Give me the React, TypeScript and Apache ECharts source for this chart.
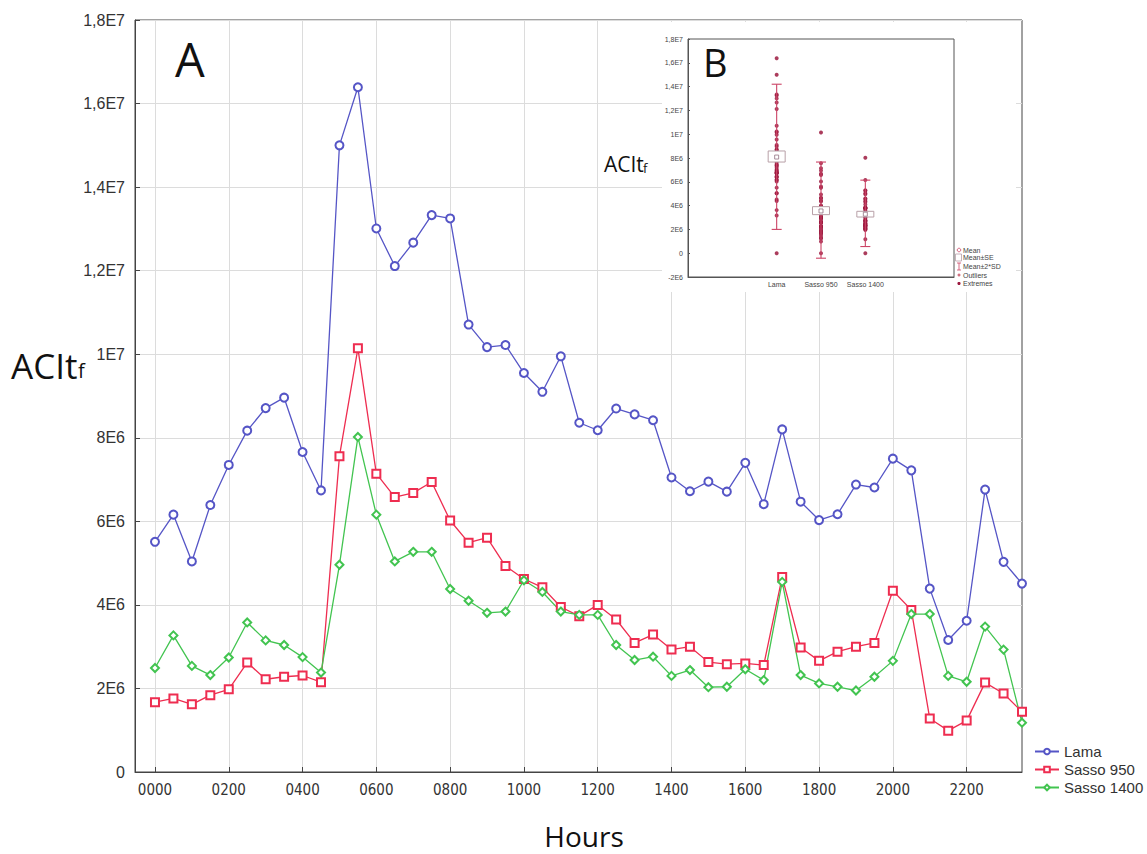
import React, { useEffect, useRef } from "react";
import * as echarts from "echarts";

// ---- main chart data (values in millions, E6) ----
const hourTickLabels = ["0000", "0200", "0400", "0600", "0800", "1000", "1200", "1400", "1600", "1800", "2000", "2200"];
const hourTickIndex = [0, 4, 8, 12, 16, 20, 24, 28, 32, 36, 40, 44];
const yTickLabels = ["0", "2E6", "4E6", "6E6", "8E6", "1E7", "1,2E7", "1,4E7", "1,6E7", "1,8E7"];
const seriesNames = ["Lama", "Sasso 950", "Sasso 1400"];

const lama = [
  5.51, 6.16, 5.04, 6.39, 7.35, 8.17, 8.71, 8.96, 7.66, 6.74,
  15.0, 16.39, 13.01, 12.11, 12.67, 13.33, 13.25, 10.71, 10.17, 10.22,
  9.55, 9.1, 9.95, 8.36, 8.18, 8.7, 8.56, 8.42, 7.05, 6.72,
  6.95, 6.71, 7.4, 6.41, 8.2, 6.47, 6.03, 6.17, 6.88, 6.81,
  7.5, 7.22, 4.39, 3.16, 3.62, 6.76, 5.03, 4.51,
];
const sasso950 = [
  1.67, 1.76, 1.62, 1.84, 1.98, 2.62, 2.22, 2.28, 2.31, 2.15,
  7.56, 10.14, 7.14, 6.58, 6.68, 6.94, 6.02, 5.49, 5.61, 4.93,
  4.62, 4.42, 3.95, 3.73, 4.0, 3.65, 3.09, 3.29, 2.93, 3.0,
  2.63, 2.58, 2.6, 2.56, 4.67, 2.98, 2.66, 2.88, 3.0, 3.09,
  4.34, 3.88, 1.28, 0.99, 1.23, 2.14, 1.88, 1.44,
];
const sasso1400 = [
  2.49, 3.27, 2.54, 2.32, 2.74, 3.58, 3.15, 3.04, 2.75, 2.38,
  4.96, 8.02, 6.16, 5.04, 5.27, 5.27, 4.38, 4.1, 3.81, 3.84,
  4.59, 4.31, 3.84, 3.76, 3.76, 3.04, 2.68, 2.76, 2.3, 2.44,
  2.03, 2.04, 2.46, 2.2, 4.55, 2.32, 2.12, 2.04, 1.95, 2.28,
  2.66, 3.78, 3.78, 2.3, 2.16, 3.48, 2.93, 1.18,
];

// ---- inset (B) data, values in millions ----
const insetYTickLabels = ["-2E6", "0", "2E6", "4E6", "6E6", "8E6", "1E7", "1,2E7", "1,4E7", "1,6E7", "1,8E7"];
const insetCategories = ["Lama", "Sasso 950", "Sasso 1400"];
const insetPositions = [2, 3, 4];
const insetMean = [8.08, 3.55, 3.28];
const insetSeLow = [7.66, 3.24, 3.04];
const insetSeHigh = [8.59, 3.91, 3.52];
const insetSdLow = [2.0, -0.42, 0.56];
const insetSdHigh = [14.2, 7.66, 6.14];
const insetZeroExtremes = [0, 0, 0];
const insetLegend = ["Mean", "Mean±SE", "Mean±2*SD", "Outliers", "Extremes"];

const BLUE = "#5555c6";
const RED = "#ee2d50";
const GREEN = "#42c450";
const IN_RED = "#cc4466";
const IN_DOT = "#9c1a40";
const IN_BOX = "#b8a0a8";
const SANS = "'Liberation Sans', Arial, sans-serif";
const NARROW = "'Liberation Sans Narrow', 'DejaVu Sans Condensed', 'Liberation Sans', sans-serif";
const MYRIAD = "'Open Sans', 'Noto Sans', sans-serif";

export default function App() {
  const ref = useRef<HTMLDivElement>(null);

  useEffect(() => {
    if (!ref.current) return;
    const chart = echarts.init(ref.current, undefined, { renderer: "svg" });

    const idx = (arr: number[]) => arr.map((v, i) => [i, v]);
    const scatterData: number[][] = [];
    [lama, sasso950, sasso1400].forEach((arr, k) => {
      arr.forEach((v) => scatterData.push([insetPositions[k], v]));
      scatterData.push([insetPositions[k], insetZeroExtremes[k]]);
    });
    const boxData = insetPositions.map((p, k) => [p, insetMean[k], insetSeLow[k], insetSeHigh[k], insetSdLow[k], insetSdHigh[k]]);

    const legendY = [250, 257.5, 266.5, 275, 283.5];
    const insetLegendGraphics: any[] = [];
    insetLegend.forEach((t, i) => {
      insetLegendGraphics.push({
        type: "text", z: 30, x: 963, y: legendY[i],
        style: { text: t, fontSize: 7, fontFamily: SANS, fill: "#444", verticalAlign: "middle", align: "left" },
      });
    });
    insetLegendGraphics.push(
      { type: "circle", z: 30, shape: { cx: 959, cy: 250, r: 1.8 }, style: { fill: "none", stroke: IN_RED, lineWidth: 0.8 } },
      { type: "rect", z: 30, shape: { x: 955.5, y: 254, width: 6, height: 7 }, style: { fill: "#fff", stroke: IN_BOX, lineWidth: 0.8 } },
      { type: "line", z: 30, shape: { x1: 959, y1: 263, x2: 959, y2: 270 }, style: { stroke: IN_RED, lineWidth: 0.8 } },
      { type: "line", z: 30, shape: { x1: 957, y1: 263, x2: 961, y2: 263 }, style: { stroke: IN_RED, lineWidth: 0.8 } },
      { type: "line", z: 30, shape: { x1: 957, y1: 270, x2: 961, y2: 270 }, style: { stroke: IN_RED, lineWidth: 0.8 } },
      { type: "circle", z: 30, shape: { cx: 959, cy: 275, r: 1.5 }, style: { fill: "#d07080", stroke: "none" } },
      { type: "circle", z: 30, shape: { cx: 959, cy: 283.5, r: 1.6 }, style: { fill: IN_DOT, stroke: "none" } },
    );

    const option: any = {
      animation: false,
      backgroundColor: "#ffffff",
      grid: [
        { left: 135, top: 20, width: 887, height: 752, show: true, borderColor: "#444", borderWidth: 1, backgroundColor: "transparent" },
        { left: 688, top: 39, width: 266, height: 238, show: true, borderColor: "#555", borderWidth: 1, backgroundColor: "transparent", z: 10 },
      ],
      xAxis: [
        {
          type: "value", gridIndex: 0, min: -1.083, max: 47,
          axisLine: { show: true, onZero: false, lineStyle: { color: "#444" } },
          axisTick: { show: true, inside: true, length: 5, customValues: hourTickIndex, lineStyle: { color: "#444" } },
          axisLabel: {
            customValues: hourTickIndex,
            formatter: (v: number) => hourTickLabels[Math.round(v / 4)] ?? "",
            fontSize: 15, color: "#333", fontFamily: NARROW, margin: 10,
          },
          splitLine: { show: true, lineStyle: { color: "#dcdcdc", width: 1 } },
        },
        {
          type: "value", gridIndex: 1, min: 0, max: 6, interval: 1, z: 10,
          axisLine: { show: true, onZero: false, lineStyle: { color: "#555" } },
          axisTick: { show: false },
          axisLabel: {
            formatter: (v: number) => (v >= 2 && v <= 4 ? insetCategories[v - 2] : ""),
            fontSize: 7, color: "#444", fontFamily: SANS, margin: 4,
          },
          splitLine: { show: false },
        },
      ],
      yAxis: [
        {
          type: "value", gridIndex: 0, min: 0, max: 18, interval: 2,
          axisLine: { show: true, onZero: false, lineStyle: { color: "#444" } },
          axisTick: { show: true, inside: true, length: 5, lineStyle: { color: "#444" } },
          axisLabel: {
            formatter: (v: number) => yTickLabels[Math.round(v / 2)] ?? "",
            fontSize: 16, color: "#333", fontFamily: SANS, margin: 10,
          },
          splitLine: { show: true, lineStyle: { color: "#dcdcdc", width: 1 } },
        },
        {
          type: "value", gridIndex: 1, min: -2, max: 18, interval: 2, z: 10,
          axisLine: { show: true, onZero: false, lineStyle: { color: "#555" } },
          axisTick: { show: true, inside: true, length: 2, lineStyle: { color: "#555" } },
          axisLabel: {
            formatter: (v: number) => insetYTickLabels[Math.round((v + 2) / 2)] ?? "",
            fontSize: 7, color: "#444", fontFamily: SANS, margin: 5,
          },
          splitLine: { show: false },
        },
      ],
      legend: {
        data: seriesNames,
        orient: "vertical",
        left: 1029, top: 739,
        itemWidth: 24, itemHeight: 7, itemGap: 3,
        textStyle: { fontSize: 15, color: "#333", fontFamily: SANS },
      },
      graphic: [
        { type: "rect", z: 5, shape: { x: 662, y: 22, width: 354, height: 270 }, style: { fill: "#ffffff" } },
        { type: "text", z: 20, x: 175, y: 59, style: { text: "A", fontSize: 47, fontFamily: MYRIAD, fill: "#111", verticalAlign: "middle", align: "left" } },
        { type: "text", z: 20, x: 11, y: 365, style: { text: "ACIt", fontSize: 35, fontFamily: MYRIAD, fill: "#111", verticalAlign: "middle", align: "left" } },
        { type: "text", z: 20, x: 78, y: 370, style: { text: "f", fontSize: 20, fontFamily: MYRIAD, fill: "#111", verticalAlign: "middle", align: "left" } },
        { type: "text", z: 20, x: 584, y: 836, style: { text: "Hours", fontSize: 28, fontFamily: MYRIAD, fill: "#111", verticalAlign: "middle", align: "center" } },
        { type: "text", z: 30, x: 703, y: 62, style: { text: "B", fontSize: 38, fontFamily: MYRIAD, fill: "#111", verticalAlign: "middle", align: "left" } },
        { type: "text", z: 30, x: 604, y: 164, style: { text: "ACIt", fontSize: 21, fontFamily: MYRIAD, fill: "#111", verticalAlign: "middle", align: "left" } },
        { type: "text", z: 30, x: 643, y: 167.5, style: { text: "f", fontSize: 13, fontFamily: MYRIAD, fill: "#111", verticalAlign: "middle", align: "left" } },
        ...insetLegendGraphics,
      ],
      series: [
        {
          name: "Lama", type: "line", xAxisIndex: 0, yAxisIndex: 0, data: idx(lama),
          symbol: "emptyCircle", symbolSize: 8, color: BLUE,
          lineStyle: { color: BLUE, width: 1.3 }, itemStyle: { color: BLUE, borderWidth: 1 },
        },
        {
          name: "Sasso 950", type: "line", xAxisIndex: 0, yAxisIndex: 0, data: idx(sasso950),
          symbol: "emptyRect", symbolSize: 8, color: RED,
          lineStyle: { color: RED, width: 1.3 }, itemStyle: { color: RED, borderWidth: 1 },
        },
        {
          name: "Sasso 1400", type: "line", xAxisIndex: 0, yAxisIndex: 0, data: idx(sasso1400),
          symbol: "emptyDiamond", symbolSize: 8, color: GREEN,
          lineStyle: { color: GREEN, width: 1.3 }, itemStyle: { color: GREEN, borderWidth: 1 },
        },
        {
          type: "scatter", xAxisIndex: 1, yAxisIndex: 1, z: 11, data: scatterData,
          symbol: "circle", symbolSize: 4, itemStyle: { color: IN_DOT, opacity: 0.85 },
          silent: true,
        },
        {
          type: "custom", xAxisIndex: 1, yAxisIndex: 1, z: 12, data: boxData, silent: true,
          renderItem: (params: any, api: any) => {
            const x = api.value(0);
            const c = (v: number) => api.coord([x, v]);
            const [cx, yMean] = c(api.value(1));
            const ySeLo = c(api.value(2))[1];
            const ySeHi = c(api.value(3))[1];
            const ySdLo = c(api.value(4))[1];
            const ySdHi = c(api.value(5))[1];
            const ls = { stroke: IN_RED, lineWidth: 1.1 };
            return {
              type: "group",
              children: [
                { type: "line", shape: { x1: cx, y1: ySdHi, x2: cx, y2: ySdLo }, style: ls },
                { type: "line", shape: { x1: cx - 5, y1: ySdHi, x2: cx + 5, y2: ySdHi }, style: ls },
                { type: "line", shape: { x1: cx - 5, y1: ySdLo, x2: cx + 5, y2: ySdLo }, style: ls },
                { type: "rect", shape: { x: cx - 8.5, y: ySeHi, width: 17, height: ySeLo - ySeHi }, style: { fill: "#ffffff", stroke: IN_BOX, lineWidth: 1 } },
                { type: "rect", shape: { x: cx - 2, y: yMean - 2, width: 4, height: 4 }, style: { fill: "none", stroke: "#907080", lineWidth: 0.8 } },
              ],
            };
          },
        },
      ],
    };

    chart.setOption(option);
    return () => chart.dispose();
  }, []);

  return <div ref={ref} style={{ position: "absolute", left: 0, top: 0, width: 1147, height: 854 }} />;
}
